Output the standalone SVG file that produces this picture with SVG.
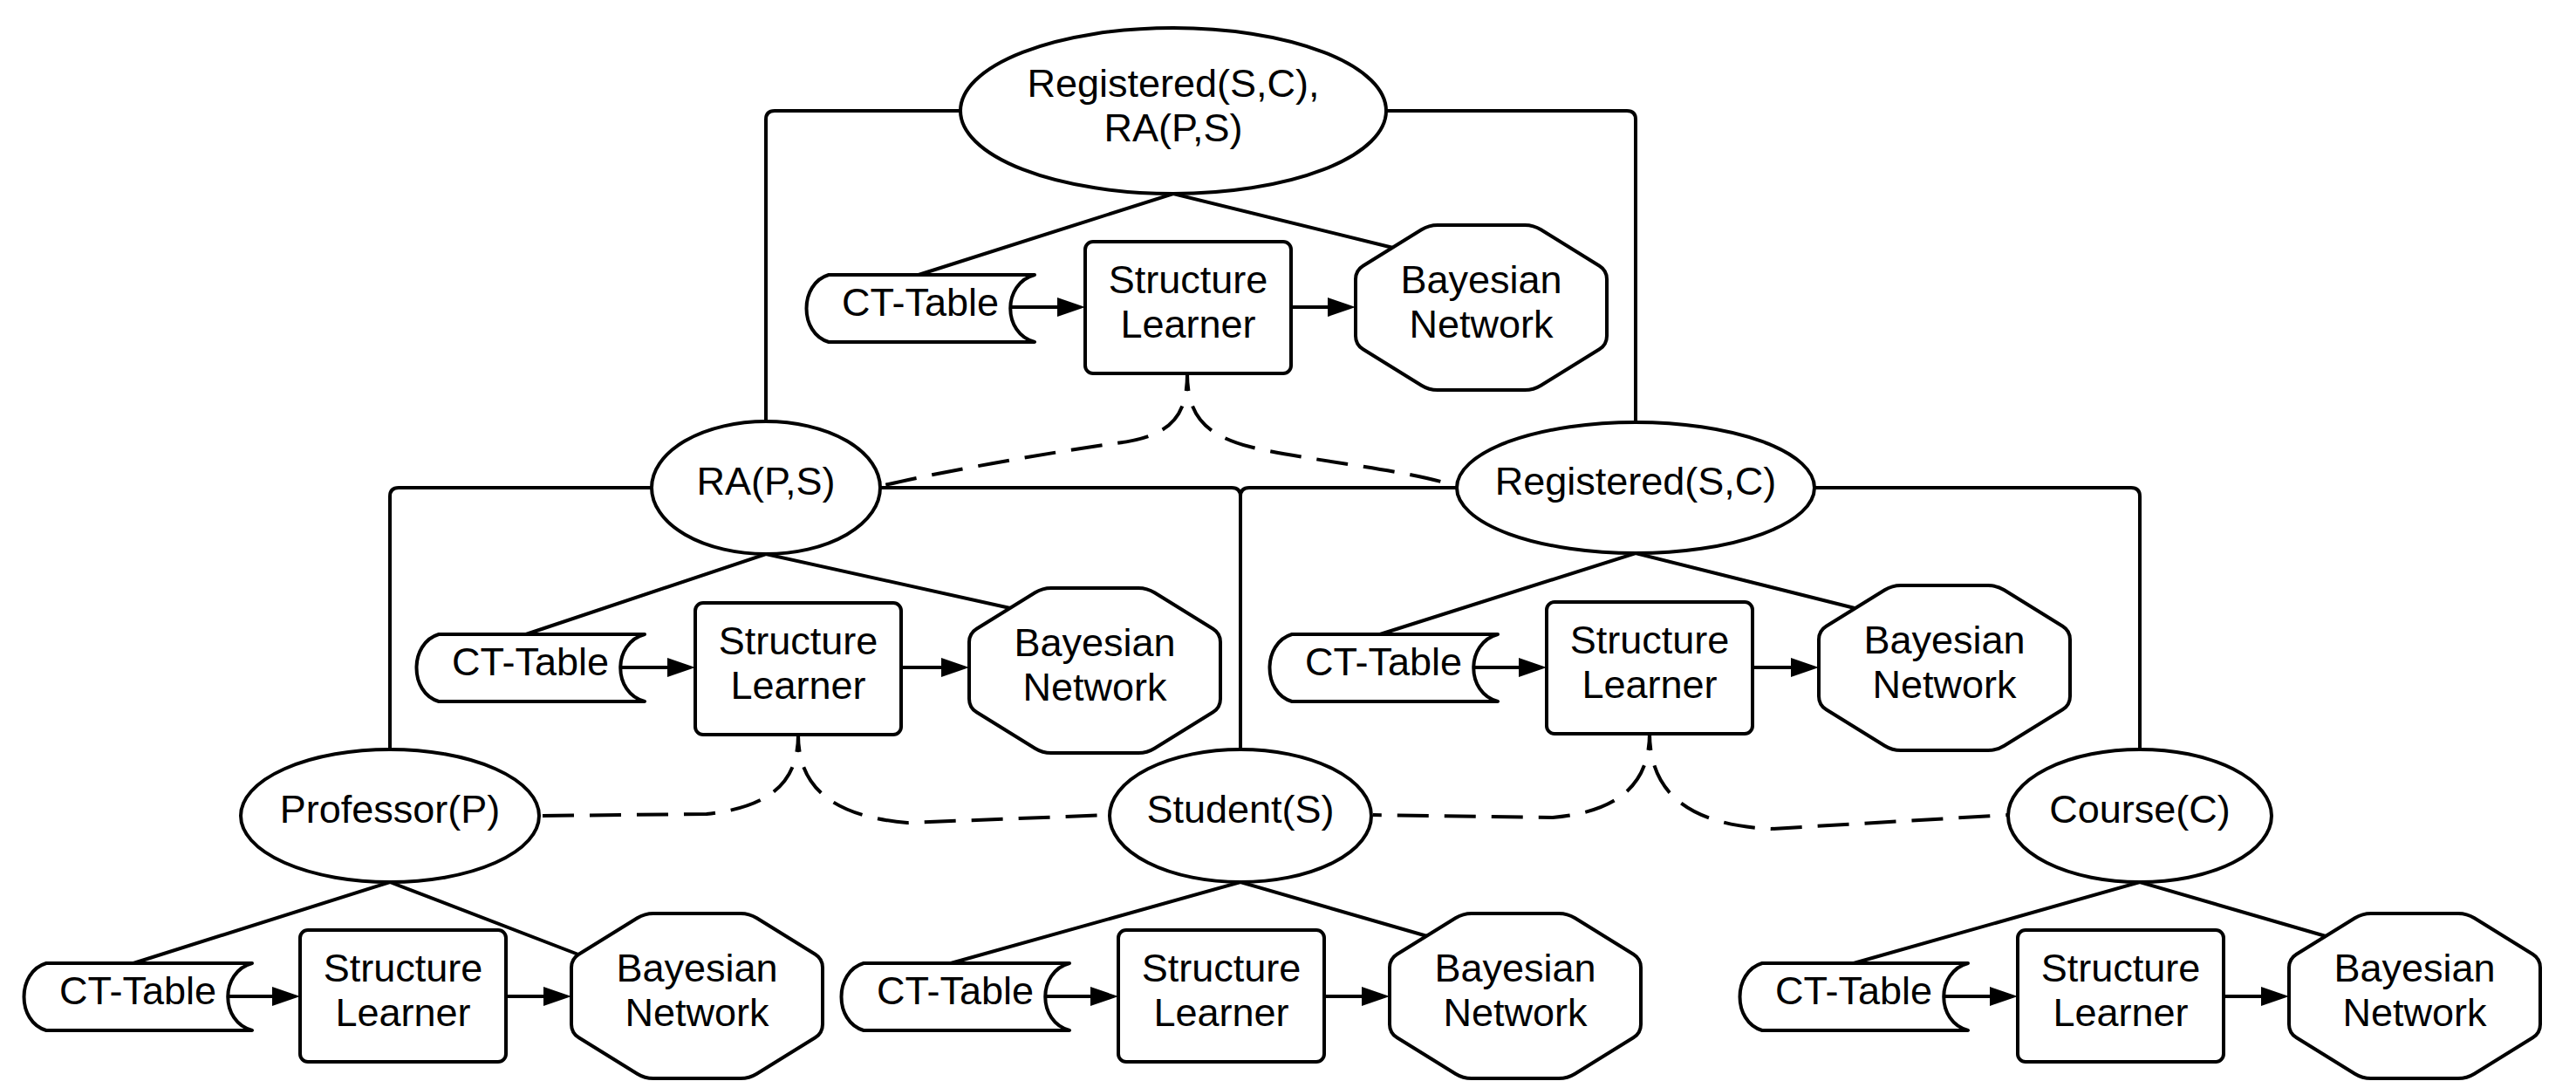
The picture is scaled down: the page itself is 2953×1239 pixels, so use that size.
<svg xmlns="http://www.w3.org/2000/svg" xmlns:xlink="http://www.w3.org/1999/xlink" width="2953" height="1239" viewBox="0 0 2953 1239">
<style>
.shape{fill:#fff;stroke:#000;stroke-width:4;stroke-linejoin:round}
.ln{fill:none;stroke:#000;stroke-width:4}
.arr{fill:none;stroke:#000;stroke-width:4;marker-end:url(#ah)}
.dash{fill:none;stroke:#000;stroke-width:4;stroke-dasharray:36 18;stroke-dashoffset:16}
text{font-family:"Liberation Sans",Arial,sans-serif;font-size:45px;fill:#000;text-anchor:middle}
</style>
<defs>
<marker id="ah" markerUnits="userSpaceOnUse" markerWidth="32" markerHeight="22" refX="22" refY="11" orient="auto">
<path d="M0,0 L32,11 L0,22 Z" fill="#000"/>
</marker>
<path id="oct" class="shape" d="M 94 0 H 194 Q 204 0 212.5 5.3 L 279.5 46.7 Q 288 52 288 62 V 127 Q 288 137 279.5 142.3 L 212.5 183.7 Q 204 189 194 189 H 94 Q 84 189 75.5 183.7 L 8.5 142.3 Q 0 137 0 127 V 62 Q 0 52 8.5 46.7 L 75.5 5.3 Q 84 0 94 0 Z"/>
<rect id="sl" class="shape" x="0" y="0" width="236" height="151" rx="9" ry="9"/>
<path id="ct" class="shape" d="M 26 0 H 262 C 225 10, 225 67, 262 77 H 26 C -8 67, -8 10, 26 0 Z"/>
</defs>
<rect width="2953" height="1239" fill="#fff"/>

<g id="connectors">
<!-- orthogonal hierarchy links -->
<path class="ln" d="M 1101 127 H 888 Q 878 127 878 137 V 483"/>
<path class="ln" d="M 1589 127 H 1865 Q 1875 127 1875 137 V 484"/>
<path class="ln" d="M 747 559 H 457 Q 447 559 447 569 V 859"/>
<path class="ln" d="M 1009 559 H 1412 Q 1422 559 1422 569 V 859"/>
<path class="ln" d="M 1670 559 H 1432 Q 1422 559 1422 569 V 859"/>
<path class="ln" d="M 2080 559 H 2443 Q 2453 559 2453 569 V 859"/>
<!-- ellipse to CT-Table / Bayesian Network -->
<path class="ln" d="M 1053 315 L 1345 222 L 1597 284"/>
<path class="ln" d="M 603 727 L 878 635 L 1158 697"/>
<path class="ln" d="M 1582 727 L 1875 634 L 2126 697"/>
<path class="ln" d="M 153 1104 L 447 1011 L 663 1094"/>
<path class="ln" d="M 1090 1104 L 1422 1011 L 1636 1073"/>
<path class="ln" d="M 2125 1104 L 2453 1011 L 2666 1073"/>
<!-- arrows -->
<path class="arr" d="M 1160 352 H 1234"/>
<path class="arr" d="M 1480 352 H 1544"/>
<path class="arr" d="M 712 765 H 787"/>
<path class="arr" d="M 1033 765 H 1101"/>
<path class="arr" d="M 1690 765 H 1763"/>
<path class="arr" d="M 2009 765 H 2075"/>
<path class="arr" d="M 262 1142 H 334"/>
<path class="arr" d="M 580 1142 H 645"/>
<path class="arr" d="M 1199 1142 H 1272"/>
<path class="arr" d="M 1518 1142 H 1583"/>
<path class="arr" d="M 2229 1142 H 2303"/>
<path class="arr" d="M 2549 1142 H 2614"/>
<!-- dashed curves -->
<path class="dash" d="M 1361 428 C 1361 480, 1340 500, 1280 508 S 1080 540, 1010 557"/>
<path class="dash" d="M 1361 428 C 1361 480, 1385 502, 1445 515 S 1620 540, 1668 557"/>
<path class="dash" d="M 915 842 C 915 895, 885 925, 810 933 L 618 935"/>
<path class="dash" d="M 915 842 C 915 895, 945 935, 1040 943 L 1272 934"/>
<path class="dash" d="M 1891 840 C 1891 895, 1860 930, 1780 937 L 1574 934"/>
<path class="dash" d="M 1891 840 C 1891 900, 1925 945, 2030 950 L 2302 934"/>
</g>

<!-- top unit -->
<g id="node-registered-ra">
<ellipse class="shape" cx="1345" cy="127" rx="244" ry="95"/>
<text x="1345" y="111">Registered(S,C),</text>
<text x="1345" y="162">RA(P,S)</text>
</g>
<g id="ct-top"><use xlink:href="#ct" x="924" y="315"/><text x="1055" y="362">CT-Table</text></g>
<g id="sl-top"><use xlink:href="#sl" x="1244" y="277"/><text x="1362" y="336">Structure</text><text x="1362" y="387">Learner</text></g>
<g id="bn-top"><use xlink:href="#oct" x="1554" y="258"/><text x="1698" y="336">Bayesian</text><text x="1698" y="387">Network</text></g>

<!-- RA(P,S) unit -->
<g id="node-ra">
<ellipse class="shape" cx="878" cy="559" rx="131" ry="76"/>
<text x="878" y="567">RA(P,S)</text>
</g>
<g id="ct-ra"><use xlink:href="#ct" x="477" y="727"/><text x="608" y="774">CT-Table</text></g>
<g id="sl-ra"><use xlink:href="#sl" x="797" y="691"/><text x="915" y="750">Structure</text><text x="915" y="801">Learner</text></g>
<g id="bn-ra"><use xlink:href="#oct" x="1111" y="674"/><text x="1255" y="752">Bayesian</text><text x="1255" y="803">Network</text></g>

<!-- Registered(S,C) unit -->
<g id="node-registered">
<ellipse class="shape" cx="1875" cy="559" rx="205" ry="75"/>
<text x="1875" y="567">Registered(S,C)</text>
</g>
<g id="ct-registered"><use xlink:href="#ct" x="1455" y="727"/><text x="1586" y="774">CT-Table</text></g>
<g id="sl-registered"><use xlink:href="#sl" x="1773" y="690"/><text x="1891" y="749">Structure</text><text x="1891" y="800">Learner</text></g>
<g id="bn-registered"><use xlink:href="#oct" x="2085" y="671"/><text x="2229" y="749">Bayesian</text><text x="2229" y="800">Network</text></g>

<!-- Professor(P) unit -->
<g id="node-professor">
<ellipse class="shape" cx="447" cy="935" rx="171" ry="76"/>
<text x="447" y="943">Professor(P)</text>
</g>
<g id="ct-professor"><use xlink:href="#ct" x="27" y="1104"/><text x="158" y="1151">CT-Table</text></g>
<g id="sl-professor"><use xlink:href="#sl" x="344" y="1066"/><text x="462" y="1125">Structure</text><text x="462" y="1176">Learner</text></g>
<g id="bn-professor"><use xlink:href="#oct" x="655" y="1047"/><text x="799" y="1125">Bayesian</text><text x="799" y="1176">Network</text></g>

<!-- Student(S) unit -->
<g id="node-student">
<ellipse class="shape" cx="1422" cy="935" rx="150" ry="76"/>
<text x="1422" y="943">Student(S)</text>
</g>
<g id="ct-student"><use xlink:href="#ct" x="964" y="1104"/><text x="1095" y="1151">CT-Table</text></g>
<g id="sl-student"><use xlink:href="#sl" x="1282" y="1066"/><text x="1400" y="1125">Structure</text><text x="1400" y="1176">Learner</text></g>
<g id="bn-student"><use xlink:href="#oct" x="1593" y="1047"/><text x="1737" y="1125">Bayesian</text><text x="1737" y="1176">Network</text></g>

<!-- Course(C) unit -->
<g id="node-course">
<ellipse class="shape" cx="2453" cy="935" rx="151" ry="76"/>
<text x="2453" y="943">Course(C)</text>
</g>
<g id="ct-course"><use xlink:href="#ct" x="1994" y="1104"/><text x="2125" y="1151">CT-Table</text></g>
<g id="sl-course"><use xlink:href="#sl" x="2313" y="1066"/><text x="2431" y="1125">Structure</text><text x="2431" y="1176">Learner</text></g>
<g id="bn-course"><use xlink:href="#oct" x="2624" y="1047"/><text x="2768" y="1125">Bayesian</text><text x="2768" y="1176">Network</text></g>
</svg>
